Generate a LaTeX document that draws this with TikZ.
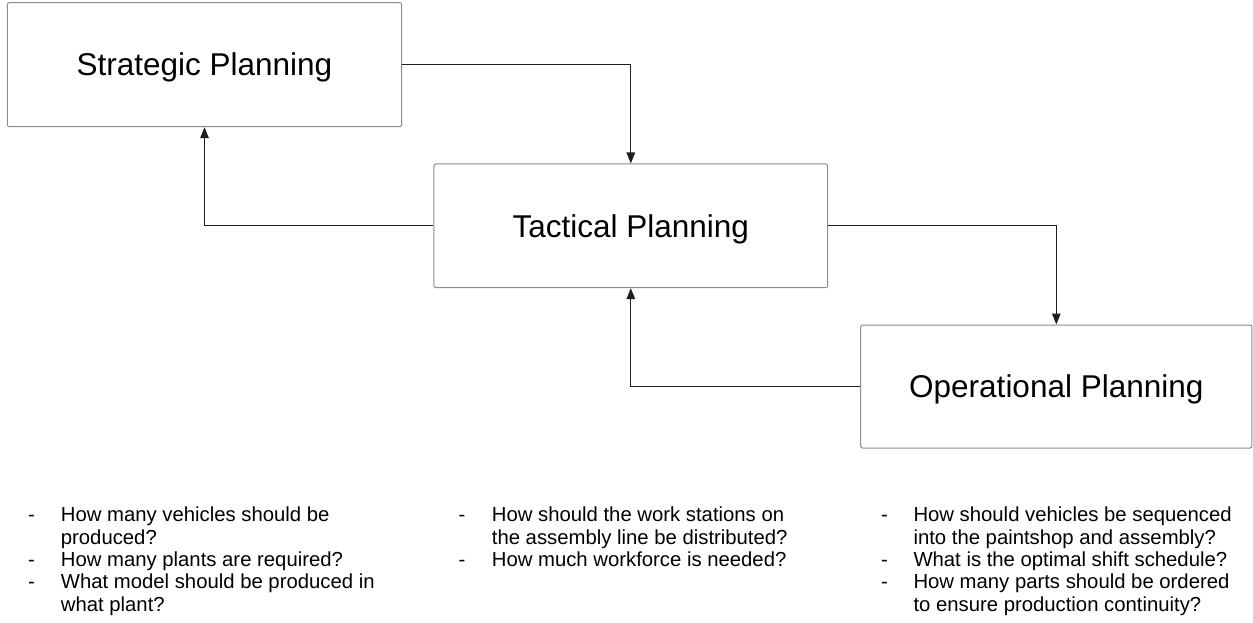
\documentclass[tikz,border=0pt]{standalone}
\usepackage{fontspec}
\setmainfont{Liberation Sans}
\usetikzlibrary{arrows.meta}
\definecolor{boxgray}{HTML}{8C8C8C}
\definecolor{linegray}{HTML}{1E1E1E}
\tikzset{
  planbox/.style={draw=boxgray, line width=1pt, rounded corners=2pt, inner sep=0pt,
    font=\fontsize{31.5}{36}\selectfont, text height=22.6pt, text depth=0pt},
  conn/.style={draw=linegray, line width=1.3pt, -{Triangle[length=11pt,width=8.5pt]}},
  qline/.style={anchor=base west, inner sep=0pt, font=\fontsize{20.3}{22.3}\selectfont, text=black},
}
\begin{document}
\begin{tikzpicture}[x=1pt,y=-1pt]
\useasboundingbox (0,0) rectangle (1253,623);
\fill[white] (0,0) rectangle (1253,623);

\node[planbox, minimum width=394.4pt, minimum height=124pt] (strat) at (204.5,64.7) {Strategic Planning};
\node[planbox, minimum width=393.7pt, minimum height=123.7pt] (tact) at (630.8,225.8) {Tactical Planning};
\node[planbox, minimum width=391.3pt, minimum height=123pt] (ops) at (1056.3,386.5) {Operational Planning};

\draw[conn] (strat.east) -| (tact.north);
\draw[conn] (tact.west) -| (strat.south);
\draw[conn] (tact.east) -| (ops.north);
\draw[conn] (ops.west) -| (tact.south);

% column 1
\node[qline] (d11) at (28,521.7) {-};
\node[qline] (a1) at (60.7,521.7) {How many vehicles should be};
\node[qline] (a2) at (60.7,544.0) {produced?};
\node[qline] (d12) at (28,566.3) {-};
\node[qline] (a3) at (60.7,566.3) {How many plants are required?};
\node[qline] (d13) at (28,588.6) {-};
\node[qline] (a4) at (60.7,588.6) {What model should be produced in};
\node[qline] (a5) at (60.7,611.0) {what plant?};

% column 2
\node[qline] (d21) at (458.5,521.7) {-};
\node[qline] (b1) at (491.7,521.7) {How should the work stations on};
\node[qline] (b2) at (491.7,544.0) {the assembly line be distributed?};
\node[qline] (d22) at (458.5,566.3) {-};
\node[qline] (b3) at (491.7,566.3) {How much workforce is needed?};

% column 3
\node[qline] (d31) at (881,521.7) {-};
\node[qline] (c1) at (913.3,521.7) {How should vehicles be sequenced};
\node[qline] (c2) at (913.3,544.0) {into the paintshop and assembly?};
\node[qline] (d32) at (881,566.3) {-};
\node[qline] (c3) at (913.3,566.3) {What is the optimal shift schedule?};
\node[qline] (d33) at (881,588.6) {-};
\node[qline] (c4) at (913.3,588.6) {How many parts should be ordered};
\node[qline] (c5) at (913.3,611.0) {to ensure production continuity?};
\end{tikzpicture}
\end{document}
